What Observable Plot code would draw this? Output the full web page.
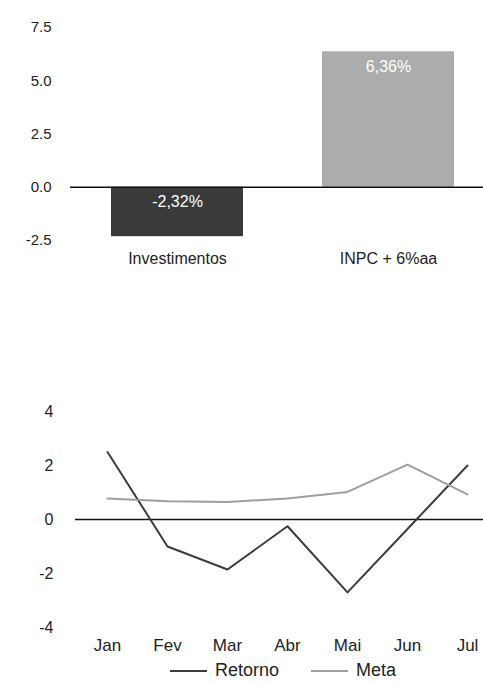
<!DOCTYPE html>
<html><head><meta charset="utf-8">
<script src="https://cdn.jsdelivr.net/npm/d3@7"></script>
<script src="https://cdn.jsdelivr.net/npm/@observablehq/plot@0.6"></script>
<style>
body{margin:0;background:#fff;font-family:"Liberation Sans",Arial,sans-serif;}
#wrap{width:483px;height:684px;position:relative;overflow:hidden;background:#fff}
#topChart svg,#bottomChart svg{display:block;font-family:"Liberation Sans",Arial,sans-serif}
.legend{display:flex;align-items:center;font-size:18px;color:#222;padding-left:170px;height:27px}
.sw{display:inline-block;width:37px;height:0;border-top:2px solid;margin-right:8px}
.item{display:flex;align-items:center;margin-right:32px}
</style></head><body>
<div id="wrap"><div id="topChart"></div><div style="height:105px"></div><div id="bottomChart"></div><div class="legend" id="legend"></div></div>
<script>
const barCategories = ["Investimentos", "INPC + 6%aa"];
const barValues = [-2.32, 6.36];
const barColors = ["#3a3a3a", "#acacac"];
const barTicks = [-2.5, 0, 2.5, 5, 7.5];

const months = ["Jan", "Fev", "Mar", "Abr", "Mai", "Jun", "Jul"];
const retorno = [2.5, -1.0, -1.85, -0.25, -2.7, -0.35, 2.0];
const meta = [0.78, 0.68, 0.65, 0.78, 1.02, 2.03, 0.93];
const seriesNames = ["Retorno", "Meta"];
const seriesColors = ["#3c3c3c", "#9e9e9e"];
const lineTicks = [-4, -2, 0, 2, 4];

const barData = barCategories.map((c, i) => ({cat: c, value: barValues[i]}));
const fmtPct = v => v.toFixed(2).replace(".", ",") + "%";

const barChart = Plot.plot({
  width: 483, height: 280,
  marginLeft: 70, marginRight: 0, marginTop: 27, marginBottom: 40,
  style: {background: "#fff", color: "#222"},
  x: {type: "band", domain: barCategories, range: [70, 495], paddingInner: 0.373, paddingOuter: 0.19, label: null},
  y: {domain: [-2.5, 7.5], label: null},
  color: {domain: barCategories, range: barColors},
  marks: [
    Plot.barY(barData, {x: "cat", y: "value", fill: "cat"}),
    Plot.ruleY([0], {stroke: "#111", strokeWidth: 1.6}),
    Plot.text(barData, {x: "cat", y: d => Math.max(0, d.value), text: d => fmtPct(d.value), fill: "white", dy: 15, fontSize: 16}),
    Plot.axisY(barTicks, {tickSize: 0, tickPadding: 19, fontSize: 15, tickFormat: d => d.toFixed(1), fill: "#222", label: null}),
    Plot.axisX({tickSize: 0, tickPadding: 12, fontSize: 16, fill: "#222", label: null})
  ]
});
document.getElementById("topChart").appendChild(barChart);

const lineData = [];
months.forEach((m, i) => {
  lineData.push({month: m, value: retorno[i], series: "Retorno"});
});
months.forEach((m, i) => {
  lineData.push({month: m, value: meta[i], series: "Meta"});
});

const lineChart = Plot.plot({
  width: 483, height: 272,
  marginLeft: 75, marginRight: 0, marginTop: 26, marginBottom: 30,
  style: {background: "#fff", color: "#222"},
  x: {type: "point", domain: months, range: [106, 468], padding: 0, label: null},
  y: {domain: [-4, 4], label: null},
  color: {domain: seriesNames, range: seriesColors},
  marks: [
    Plot.ruleY([0], {stroke: "#111", strokeWidth: 1.6}),
    Plot.line(lineData, {x: "month", y: "value", z: "series", stroke: "series", strokeWidth: 2}),
    Plot.axisY(lineTicks, {tickSize: 0, tickPadding: 22, fontSize: 16, tickFormat: d => String(d), fill: "#222", label: null}),
    Plot.axisX({tickSize: 0, tickPadding: 11, fontSize: 17, fill: "#222", label: null})
  ]
});
document.getElementById("bottomChart").appendChild(lineChart);

const legend = document.getElementById("legend");
seriesNames.forEach((s, i) => {
  const item = document.createElement("span");
  item.className = "item";
  const sw = document.createElement("span");
  sw.className = "sw";
  sw.style.borderTopColor = seriesColors[i];
  item.appendChild(sw);
  item.appendChild(document.createTextNode(s));
  legend.appendChild(item);
});
</script>
</body></html>
